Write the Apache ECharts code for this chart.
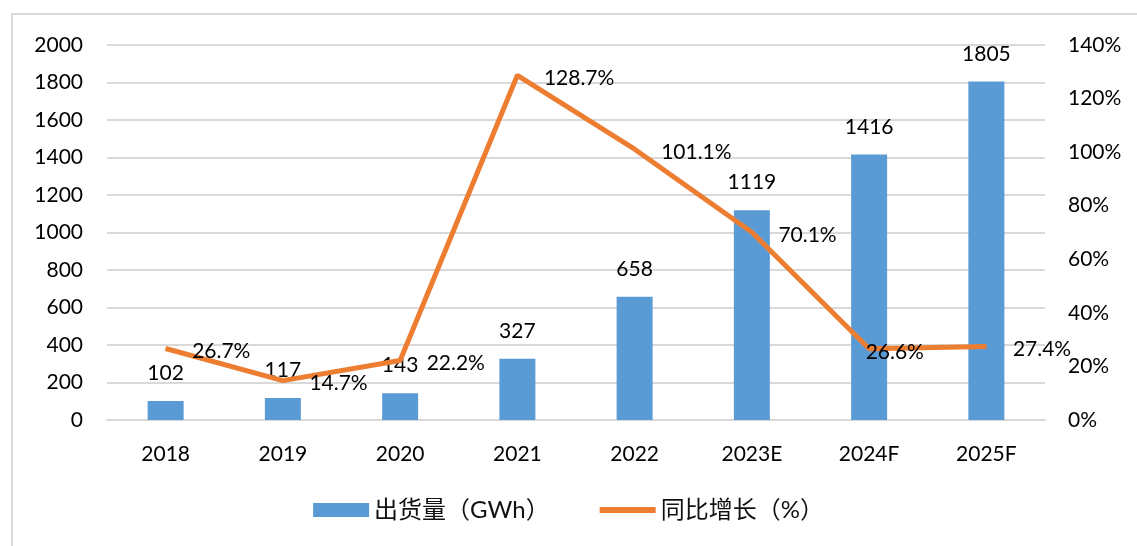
<!DOCTYPE html>
<html>
<head>
<meta charset="utf-8">
<script src="https://cdn.jsdelivr.net/npm/echarts@6/dist/echarts.min.js"></script>
<style>
  html, body { margin: 0; padding: 0; background: #fff; overflow: hidden; }
  #chart { position: absolute; left: 0; top: 0; width: 1137px; height: 546px; }
  #frame { position: absolute; left: 11px; top: 13px; width: 2000px; height: 1000px;
           border: 2px solid #d9d9d9; pointer-events: none; }
</style>
</head>
<body>
<div id="chart"></div>
<div id="frame"></div>
<script>
// 类目与数据
const years = ['2018', '2019', '2020', '2021', '2022', '2023E', '2024F', '2025F'];
const shipments = [102, 117, 143, 327, 658, 1119, 1416, 1805];   // 出货量 GWh
const growth = [26.7, 14.7, 22.2, 128.7, 101.1, 70.1, 26.6, 27.4]; // 同比增长 %

const font = 'Lato, "Noto Sans CJK SC", sans-serif';
const fs = 21;

const chart = echarts.init(document.getElementById('chart'));

// 2024F 的标签压在线上，单独挪一下
const growthData = growth.map((v, i) => {
  if (years[i] === '2024F') {
    return { value: v, label: { offset: [-30, 3] } };
  }
  return { value: v, label: { offset: [0, 3] } };
});

const option = {
  animation: false,
  textStyle: { fontFamily: font },
  grid: { left: 107, right: 92, top: 45, bottom: 126 },
  legend: {
    bottom: 19,
    left: 'center',
    itemWidth: 56,
    itemHeight: 14,
    itemGap: 50,
    textStyle: { fontSize: 24, color: '#111', fontFamily: font, padding: [0, 0, 0, 0] },
    data: [
      { name: '出货量（GWh）', icon: 'rect' },
      { name: '同比增长（%）', icon: 'path://M0,0 L56,0 L56,6 L0,6 Z' }
    ]
  },
  xAxis: {
    type: 'category',
    data: years,
    axisTick: { show: false },
    axisLine: { lineStyle: { color: '#d9d9d9', width: 2 } },
    axisLabel: { fontSize: fs, color: '#000', margin: 24, fontFamily: font }
  },
  yAxis: [
    {
      type: 'value',
      min: 0,
      max: 2000,
      interval: 200,
      axisLine: { show: false },
      axisTick: { show: false },
      splitLine: { lineStyle: { color: '#d9d9d9', width: 2 } },
      axisLabel: { fontSize: fs, color: '#000', margin: 24, fontFamily: font, formatter: v => String(v) }
    },
    {
      type: 'value',
      min: 0,
      max: 140,
      interval: 20,
      axisLine: { show: false },
      axisTick: { show: false },
      splitLine: { show: false },
      axisLabel: { fontSize: fs, color: '#000', margin: 23, formatter: '{value}%', fontFamily: font }
    }
  ],
  series: [
    {
      name: '出货量（GWh）',
      type: 'bar',
      data: shipments,
      barWidth: 36,
      itemStyle: { color: '#5b9bd5' },
      label: {
        show: true,
        position: 'top',
        distance: 17,
        fontSize: fs,
        color: '#000',
        fontFamily: font
      }
    },
    {
      name: '同比增长（%）',
      type: 'line',
      yAxisIndex: 1,
      data: growthData,
      symbol: 'circle',
      symbolSize: 1,
      lineStyle: { color: '#ed7d31', width: 5 },
      itemStyle: { color: '#ed7d31' },
      label: {
        show: true,
        position: 'right',
        distance: 26,
        fontSize: fs,
        color: '#000',
        fontFamily: font,
        formatter: p => p.value.toFixed(1) + '%'
      }
    }
  ]
};

chart.setOption(option);
</script>
</body>
</html>
